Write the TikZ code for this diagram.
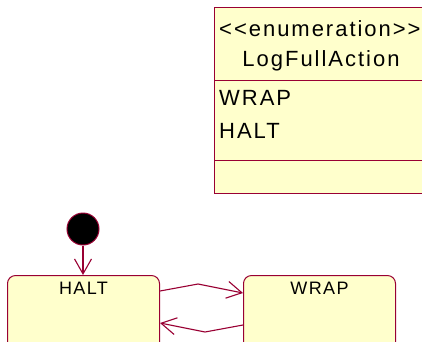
\documentclass[tikz,border=0pt]{standalone}
\usepackage{fontspec}
\setmainfont{Liberation Sans}
\newfontfamily\spc[LetterSpace=9]{Liberation Sans}
\newfontfamily\spcs[LetterSpace=8]{Liberation Sans}
\usetikzlibrary{arrows.meta,calc}
\definecolor{bord}{HTML}{990033}
\definecolor{fillc}{HTML}{FFFFCC}
\tikzset{
  box/.style={draw=bord, fill=fillc, line width=1pt, inner sep=0pt},
  statebox/.style={box, rounded corners=8pt, minimum width=152pt, minimum height=75pt, anchor=north west},
  bigtxt/.style={font=\spc\fontsize{22}{24}\selectfont, inner sep=0pt},
  smalltxt/.style={font=\spcs\fontsize{18}{20}\selectfont, inner sep=0pt},
  conn/.style={draw=bord, line width=1.1pt, -{Straight Barb[length=15pt,width=17pt,line width=1.1pt]}},
}
\begin{document}
\begin{tikzpicture}[x=1pt,y=-1pt]
\useasboundingbox (0,0) rectangle (422,341);
% class box
\node[box, minimum width=214pt, minimum height=186pt, anchor=north west] (cls) at (214,7) {};
\draw[bord, line width=1pt] (214,80) -- (428,80);
\draw[bord, line width=1pt] (214,160) -- (428,160);
\node[bigtxt, anchor=west] (stereo) at (219,29) {<<enumeration>>};
\node[bigtxt] (cname) at (321,61) {LogFullAction};
\node[bigtxt, anchor=west] (lit1) at (219,98) {WRAP};
\node[bigtxt, anchor=west] (lit2) at (219,131) {HALT};
% states
\node[box, circle, fill=black, minimum size=32pt] (init) at (83,229) {};
\node[statebox] (halt) at (7,275) {};
\node[smalltxt] (haltt) at ($(halt.north)+(0,13.5)$) {HALT};
\node[statebox] (wrap) at (243,275) {};
\node[smalltxt] (wrapt) at ($(wrap.north)+(0,13.5)$) {WRAP};
\coordinate (b1) at (198,284);
\coordinate (b2) at (205,332);
\draw[conn] (init) -- (halt.north -| init);
\draw[conn] ($(halt.north east)+(0,16)$) -- (b1) -- ($(wrap.north west)+(0,18)$);
\draw[conn] ($(wrap.north west)+(0,50)$) -- (b2) -- ($(halt.north east)+(0,48)$);
\end{tikzpicture}
\end{document}
